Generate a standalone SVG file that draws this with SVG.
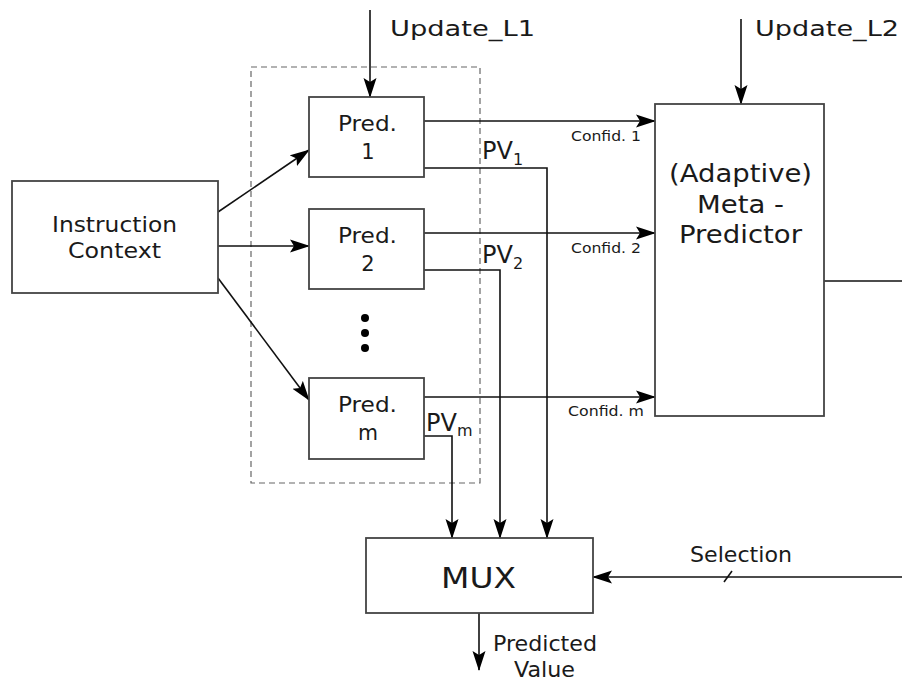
<svg xmlns="http://www.w3.org/2000/svg" width="902" height="681" viewBox="0 0 902 681">
<style>
.box{fill:#fff;stroke:#444;stroke-width:1.8}
.ln{fill:none;stroke:#111;stroke-width:1.6}
text{font-family:"DejaVu Sans",Verdana,sans-serif;fill:#1a1a1a}
.m{text-anchor:middle}
</style>
<defs>
<marker id="ah" markerWidth="20" markerHeight="14" refX="19" refY="7" orient="auto" markerUnits="userSpaceOnUse">
<path d="M0,0.5 L20,7 L0,13.5 L4,7 Z" fill="#000"/>
</marker>
</defs>
<rect x="0" y="0" width="902" height="681" fill="#fff"/>
<rect x="251" y="67" width="229" height="416" fill="none" stroke="#666" stroke-width="1.2" stroke-dasharray="6,4"/>
<g id="connectors">
<line class="ln" x1="370" y1="10" x2="370" y2="97" marker-end="url(#ah)"/>
<line class="ln" x1="741" y1="19" x2="741" y2="104" marker-end="url(#ah)"/>
<line class="ln" x1="218" y1="212" x2="309" y2="150" marker-end="url(#ah)"/>
<line class="ln" x1="218" y1="246" x2="309" y2="246" marker-end="url(#ah)"/>
<line class="ln" x1="218" y1="278" x2="309" y2="400" marker-end="url(#ah)"/>
<line class="ln" x1="424" y1="121" x2="655" y2="121" marker-end="url(#ah)"/>
<line class="ln" x1="424" y1="233" x2="655" y2="233" marker-end="url(#ah)"/>
<line class="ln" x1="424" y1="397" x2="655" y2="397" marker-end="url(#ah)"/>
<polyline class="ln" points="424,168 547,168 547,538" marker-end="url(#ah)"/>
<polyline class="ln" points="424,270 500,270 500,538" marker-end="url(#ah)"/>
<polyline class="ln" points="424,436 452,436 452,538" marker-end="url(#ah)"/>
<line class="ln" x1="824" y1="281" x2="902" y2="281"/>
<line class="ln" x1="902" y1="577" x2="593" y2="577" marker-end="url(#ah)"/>
<line class="ln" x1="724" y1="582" x2="732" y2="571"/>
<line class="ln" x1="479" y1="613" x2="479" y2="670" marker-end="url(#ah)"/>
</g>
<g id="ic">
<rect class="box" x="12" y="181" width="206" height="112"/>
<text x="52" y="232" font-size="20.5" textLength="125" lengthAdjust="spacingAndGlyphs">Instruction</text>
<text x="68" y="258" font-size="20.5" textLength="93" lengthAdjust="spacingAndGlyphs">Context</text>
</g>
<g id="pred1">
<rect class="box" x="309" y="97" width="115" height="80"/>
<text x="338" y="131" font-size="21" textLength="59" lengthAdjust="spacingAndGlyphs">Pred.</text>
<text class="m" x="368" y="159" font-size="21">1</text>
</g>
<g id="pred2">
<rect class="box" x="309" y="209" width="115" height="80"/>
<text x="338" y="243" font-size="21" textLength="59" lengthAdjust="spacingAndGlyphs">Pred.</text>
<text class="m" x="368" y="271" font-size="21">2</text>
</g>
<g id="dots">
<circle cx="365" cy="318" r="4" fill="#000"/>
<circle cx="365" cy="333" r="4" fill="#000"/>
<circle cx="365" cy="348" r="4" fill="#000"/>
</g>
<g id="predm">
<rect class="box" x="309" y="378" width="115" height="81"/>
<text x="338" y="412" font-size="21" textLength="59" lengthAdjust="spacingAndGlyphs">Pred.</text>
<text class="m" x="368" y="440" font-size="21" textLength="20" lengthAdjust="spacingAndGlyphs">m</text>
</g>
<g id="meta">
<rect class="box" x="655" y="104" width="169" height="312"/>
<text x="669" y="182" font-size="25" textLength="143" lengthAdjust="spacingAndGlyphs">(Adaptive)</text>
<text x="697" y="213" font-size="25" textLength="87" lengthAdjust="spacingAndGlyphs">Meta -</text>
<text x="679" y="243" font-size="25" textLength="123" lengthAdjust="spacingAndGlyphs">Predictor</text>
</g>
<g id="mux">
<rect class="box" x="366" y="538" width="227" height="75"/>
<text x="441" y="588" font-size="29" textLength="75" lengthAdjust="spacingAndGlyphs">MUX</text>
</g>
<g id="labels">
<text x="390" y="36" font-size="22" textLength="145" lengthAdjust="spacingAndGlyphs">Update_L1</text>
<text x="755" y="36" font-size="22" textLength="144" lengthAdjust="spacingAndGlyphs">Update_L2</text>
<text x="571" y="141" font-size="14" textLength="70" lengthAdjust="spacingAndGlyphs">Confid. 1</text>
<text x="571" y="253" font-size="14" textLength="70" lengthAdjust="spacingAndGlyphs">Confid. 2</text>
<text x="568" y="416" font-size="14" textLength="76" lengthAdjust="spacingAndGlyphs">Confid. m</text>
<text x="482" y="159" font-size="24">PV<tspan font-size="16" dy="6">1</tspan></text>
<text x="482" y="263" font-size="24">PV<tspan font-size="16" dy="6">2</tspan></text>
<text x="426" y="431" font-size="24">PV<tspan font-size="16" dy="5">m</tspan></text>
<text x="690" y="562" font-size="20.5" textLength="102" lengthAdjust="spacingAndGlyphs">Selection</text>
<text x="493" y="651" font-size="20.5" textLength="104" lengthAdjust="spacingAndGlyphs">Predicted</text>
<text x="514" y="677" font-size="20.5" textLength="61" lengthAdjust="spacingAndGlyphs">Value</text>
</g>
</svg>
